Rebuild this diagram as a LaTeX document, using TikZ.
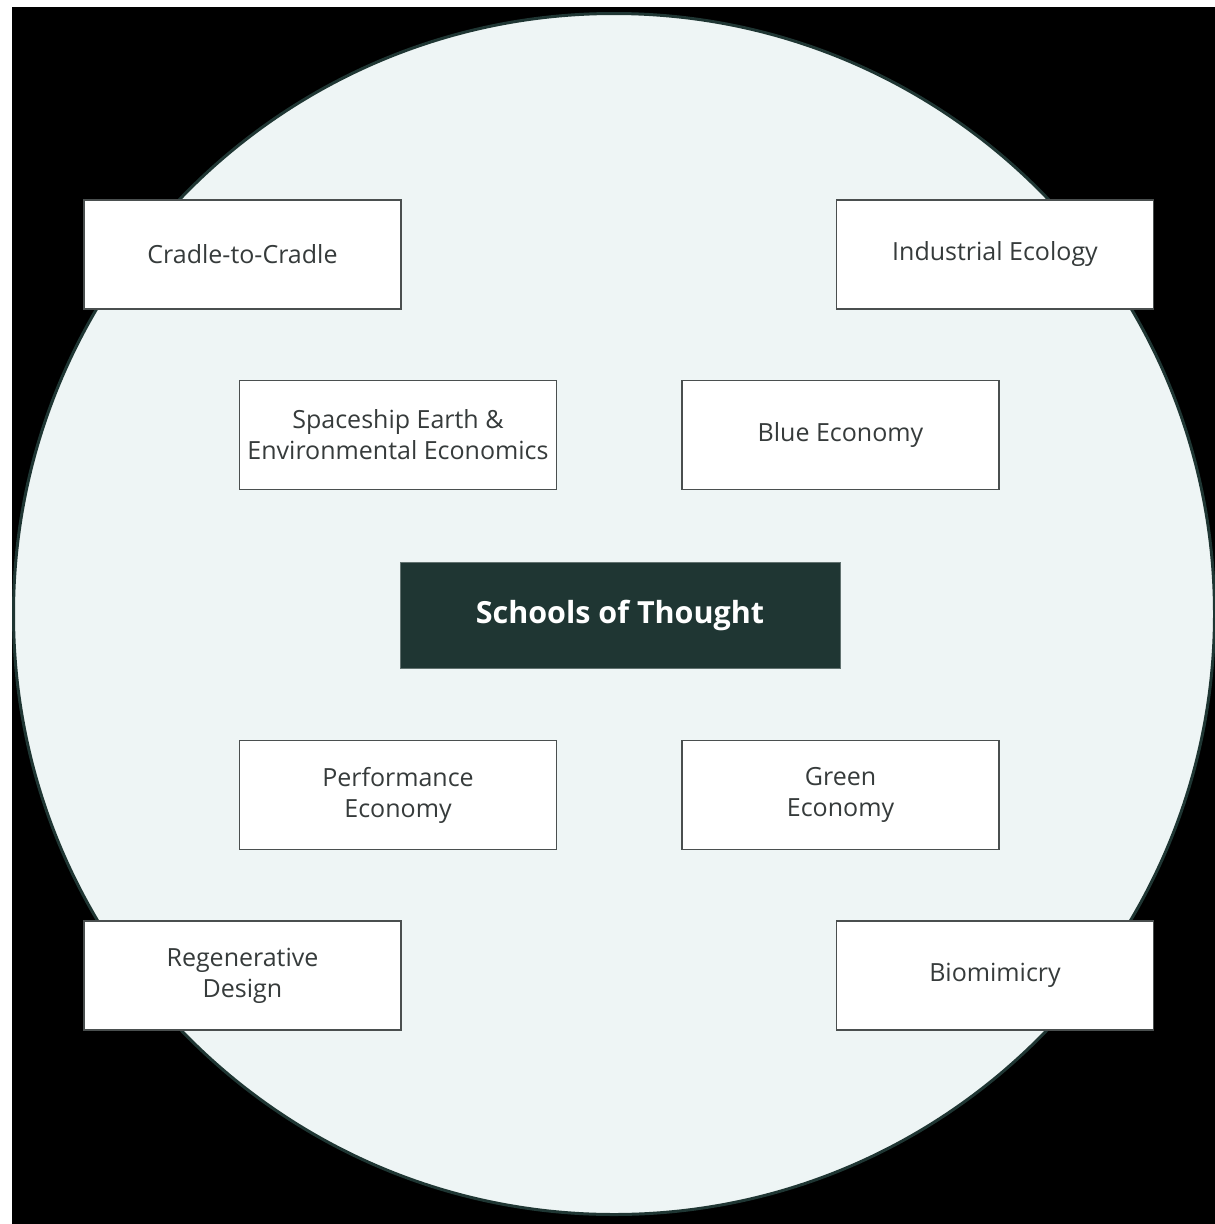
\documentclass[tikz,border=0pt]{standalone}
\usepackage{fontspec}
\setmainfont{Open Sans}
\definecolor{bgfill}{HTML}{EEF5F5}
\definecolor{darkgreen}{HTML}{1F3633}
\definecolor{txt}{HTML}{363B3B}
\definecolor{boxline}{HTML}{4A4F4F}
\begin{document}
\begin{tikzpicture}[x=1pt,y=-1pt,
  school/.style={draw=boxline,line width=1.6pt,fill=white,minimum width=317pt,minimum height=109pt,inner sep=0pt,align=center,text=txt,font=\fontsize{25}{31}\selectfont},
  core/.style={fill=darkgreen,draw=darkgreen!70!white,line width=1pt,minimum width=440pt,minimum height=106pt,inner sep=0pt,align=center,text=white,font=\fontsize{30.5}{36}\selectfont\bfseries}]
\useasboundingbox (0,0) rectangle (1215,1224);
\fill[white] (0,0) rectangle (1215,1224);
\fill[black] (12,7) rectangle (1215,1224);
\node[circle,fill=bgfill,draw=darkgreen,line width=3pt,minimum size=1201pt,inner sep=0pt] (circ) at (614,614) {};
\node[school] (c2c) at (242.5,254.5) {Cradle-to-Cradle};
\node[school] (ie) at (995,254.5) {Industrial Ecology};
\node[school] (se) at (398,435) {Spaceship Earth \&\\Environmental Economics};
\node[school] (be) at (840.5,435) {Blue Economy};
\node[core] (sot) at (620,615) {Schools of Thought};
\node[school] (pe) at (398,795) {Performance\\Economy};
\node[school] (ge) at (840.5,795) {Green\\Economy};
\node[school] (rd) at (242.5,975.5) {Regenerative\\Design};
\node[school] (bm) at (995,975.5) {Biomimicry};
\end{tikzpicture}
\end{document}
